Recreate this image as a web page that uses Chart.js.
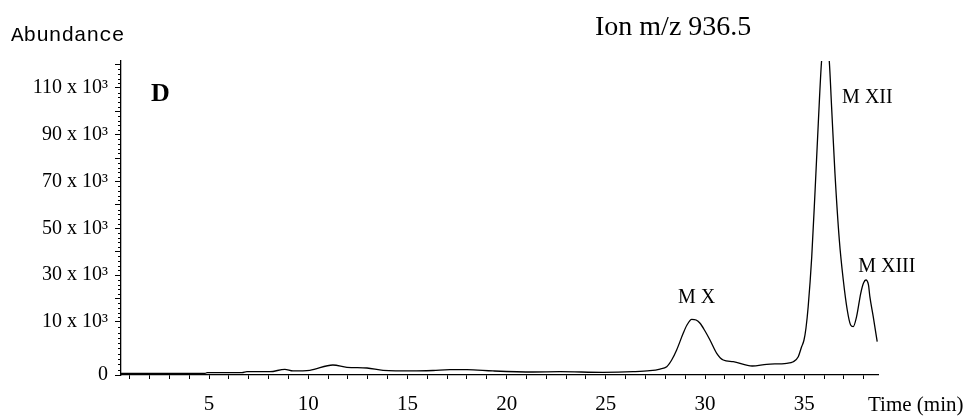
<!DOCTYPE html>
<html>
<head>
<meta charset="utf-8">
<script src="https://cdn.jsdelivr.net/npm/chart.js@4/dist/chart.umd.min.js"></script>
<style>
  html, body { margin: 0; padding: 0; background: #fff; }
  canvas { display: block; }
</style>
</head>
<body>
<canvas id="chrom" width="971" height="417"></canvas>
<script>
// Ion chromatogram, m/z 936.5: retention time (min) of each sampled point
const timeMin = [
  0.56, 2.52, 4.80, 4.90, 6.66, 6.91, 8.07, 8.82, 9.23, 10.08,
  11.24, 11.95, 12.96, 13.77, 15.28, 16.29, 17.14, 18.00, 19.31, 21.33,
  22.69, 24.85, 26.37, 27.22, 27.73, 28.07, 28.32, 28.57, 28.90, 29.09,
  29.33, 29.55, 29.75, 30.00, 30.25, 30.59, 30.92, 31.42, 32.38, 33.11,
  34.12, 34.45, 34.70, 34.87, 34.99, 35.09, 35.20, 35.38, 35.55, 35.71,
  35.88, 36.07, 36.26, 36.38, 36.55, 36.77, 36.97, 37.17, 37.34, 37.47,
  37.64, 37.85, 37.99, 38.11, 38.24, 38.31, 38.48, 38.68
];

// Abundance (counts) at each of those times
const abundance = [
  320, 320, 320, 430, 430, 620, 620, 1080, 760, 890,
  1890, 1450, 1320, 890, 760, 850, 1000, 1000, 760, 570,
  620, 510, 620, 810, 1130, 1570, 2830, 4720, 7870, 9430,
  11150, 10860, 9760, 8300, 6600, 4090, 2830, 2510, 1700, 2020,
  2210, 2510, 3450, 5340, 6600, 8870, 16540, 37910, 66410, 94910,
  121970, 132600, 121970, 102010, 73550, 45040, 27950, 15130, 9430, 9110,
  12270, 22270, 26670, 27950, 25810, 20810, 12270, 6280
];

// Axis tick labels
const xTickValues = [5, 10, 15, 20, 25, 30, 35];
const yTickValues = [0, 10000, 30000, 50000, 70000, 90000, 110000];
const yTickLabels = ['0', '10 x 10³', '30 x 10³', '50 x 10³', '70 x 10³', '90 x 10³', '110 x 10³'];

// Peak names
const peakNames = ['M X', 'M XII', 'M XIII'];

// ---- layout / style settings ----
const X_MIN = 0.56, X_MAX = 38.72;
const Y_MAX = 121500;
const BAND_TOP = 10000;     // the 0 .. 10 x 10³ band of the abundance axis
const BAND_SHARE = 0.1688;  // share of the axis height given to that band
const SERIF = '"Liberation Serif", "Times New Roman", serif';

// where each peak name sits, in (min, counts)
const peakLabelAnchors = [[28.64, 18120], [36.91, 103460], [37.72, 31370]];

// Abundance axis: linear, but the first 10 x 10³ band is drawn taller than the rest
class BandedScale extends Chart.LinearScale {
  getPixelForValue(value) {
    if (value === null || value === undefined || isNaN(value)) return NaN;
    const lo = this.min, hi = this.max;
    let d;
    if (value <= BAND_TOP) d = BAND_SHARE * (value - lo) / (BAND_TOP - lo);
    else d = BAND_SHARE + (1 - BAND_SHARE) * (value - BAND_TOP) / (hi - BAND_TOP);
    return this.getPixelForDecimal(d);
  }
  getValueForPixel(pixel) {
    const d = this.getDecimalForPixel(pixel);
    const lo = this.min, hi = this.max;
    if (d <= BAND_SHARE) return lo + (d / BAND_SHARE) * (BAND_TOP - lo);
    return BAND_TOP + (d - BAND_SHARE) / (1 - BAND_SHARE) * (hi - BAND_TOP);
  }
}
BandedScale.id = 'banded';
BandedScale.defaults = Chart.LinearScale.defaults;
Chart.register(BandedScale);

// Short minor ticks on the abundance axis and all free-standing text
const decorations = {
  id: 'decorations',
  afterDraw(chart) {
    const { ctx, chartArea, scales } = chart;
    const x = scales.x, y = scales.y;
    ctx.save();

    // minor ticks
    ctx.strokeStyle = '#000';
    ctx.lineWidth = 1;
    const minor = [];
    for (let v = 1000; v < BAND_TOP; v += 1000) minor.push(v);
    for (let v = BAND_TOP + 2000; v < Y_MAX; v += 2000) if (v % 10000 !== 0) minor.push(v);
    ctx.beginPath();
    minor.forEach(v => {
      const py = Math.round(y.getPixelForValue(v)) + 0.5;
      ctx.moveTo(chartArea.left - 3, py);
      ctx.lineTo(chartArea.left, py);
    });
    ctx.stroke();

    ctx.fillStyle = '#000';
    ctx.textBaseline = 'alphabetic';
    ctx.textAlign = 'left';

    // axis captions and panel letter
    ctx.font = '21px "Liberation Mono", "Courier New", monospace';
    ctx.fillText('Abundance', 11, 41);
    ctx.font = '28px ' + SERIF;
    ctx.fillText('Ion m/z 936.5', 595, 35);
    ctx.font = 'bold 26px ' + SERIF;
    ctx.fillText('D', 151, 101);
    ctx.font = '21px ' + SERIF;
    ctx.fillText('Time (min)', chartArea.right - 10, 411);

    // peak names
    ctx.font = '20px ' + SERIF;
    peakNames.forEach((name, i) => {
      const [t, v] = peakLabelAnchors[i];
      ctx.fillText(name, x.getPixelForValue(t), y.getPixelForValue(v));
    });
    ctx.restore();
  }
};

new Chart(document.getElementById('chrom'), {
  type: 'line',
  data: {
    datasets: [{
      data: timeMin.map((t, i) => ({ x: t, y: abundance[i] })),
      borderColor: '#000',
      borderWidth: 1.3,
      pointRadius: 0,
      cubicInterpolationMode: 'monotone',
      fill: false
    }]
  },
  options: {
    responsive: false,
    animation: false,
    devicePixelRatio: 1,
    layout: { padding: { top: 61, right: 93, left: 0, bottom: 0 } },
    plugins: { legend: { display: false }, tooltip: { enabled: false }, title: { display: false } },
    scales: {
      x: {
        type: 'linear',
        min: X_MIN,
        max: X_MAX,
        bounds: 'data',
        border: { display: true, color: '#000', width: 1.3 },
        grid: { drawOnChartArea: false, drawTicks: true, tickLength: 4, color: '#000', tickColor: '#000' },
        ticks: {
          autoSkip: false,
          maxRotation: 0,
          padding: 13,
          color: '#000',
          font: { family: SERIF, size: 21 },
          callback: v => (xTickValues.includes(v) ? String(v) : '')
        },
        afterBuildTicks: s => {
          const t = [];
          for (let v = Math.ceil(X_MIN); v <= X_MAX; v++) t.push({ value: v });
          s.ticks = t;
        },
        afterFit: s => { s.height = 42; }
      },
      y: {
        type: 'banded',
        min: 0,
        max: Y_MAX,
        bounds: 'data',
        border: { display: true, color: '#000', width: 1.3 },
        grid: { drawOnChartArea: false, drawTicks: true, tickLength: 6, color: '#000', tickColor: '#000' },
        ticks: {
          autoSkip: false,
          padding: 7,
          color: '#000',
          font: { family: SERIF, size: 20 },
          callback: v => {
            const i = yTickValues.indexOf(v);
            return i >= 0 ? yTickLabels[i] : '';
          }
        },
        afterBuildTicks: s => {
          const t = [];
          for (let v = 0; v < Y_MAX; v += 10000) t.push({ value: v });
          s.ticks = t;
        },
        afterFit: s => { s.width = 121; }
      }
    }
  },
  plugins: [decorations]
});
</script>
</body>
</html>
